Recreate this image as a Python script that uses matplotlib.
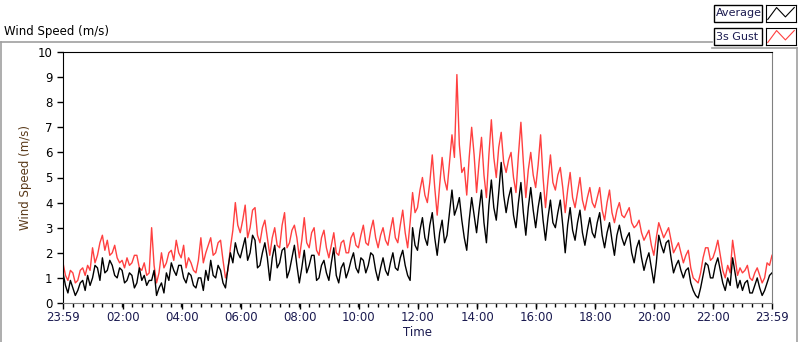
import numpy as np
import matplotlib
matplotlib.use("Agg")
from matplotlib import pyplot as plt
from matplotlib.patches import Rectangle
from matplotlib.lines import Line2D

# minutes since 23:59, sampled every 5 minutes (one row per hour)
minutes = np.arange(0, 1441, 5)

average = [1.2, 0.7, 0.4, 0.9, 0.6, 0.3, 0.5, 0.8, 0.9, 0.5, 1.1, 0.7,
           1.0, 1.5, 1.4, 0.9, 1.8, 1.2, 1.3, 1.7, 1.5, 1.1, 1.0, 1.4,
           1.3, 0.8, 0.9, 1.2, 1.1, 0.6, 0.8, 1.4, 0.9, 1.1, 0.7, 0.9,
           0.9, 1.3, 0.3, 0.6, 0.8, 0.4, 1.2, 0.9, 1.6, 1.3, 1.1, 1.5,
           1.5, 1.0, 0.8, 1.2, 1.1, 0.7, 0.6, 1.0, 1.0, 0.5, 1.3, 0.9,
           1.7, 1.1, 1.0, 1.5, 1.3, 0.8, 0.6, 1.4, 2.0, 1.6, 2.4, 2.0,
           1.8, 2.2, 2.6, 1.7, 2.0, 2.7, 2.5, 1.4, 1.5, 2.0, 2.4, 1.8,
           0.9, 1.8, 2.3, 1.4, 1.6, 2.1, 2.2, 1.0, 1.3, 1.8, 2.3, 1.5,
           0.8, 1.4, 2.1, 1.2, 1.5, 1.9, 1.9, 0.9, 1.0, 1.5, 1.7, 1.2,
           0.9, 1.6, 2.2, 1.1, 0.8, 1.4, 1.6, 1.0, 1.3, 1.7, 2.0, 1.4,
           1.2, 1.8, 1.7, 1.2, 1.5, 2.0, 1.9, 1.3, 0.9, 1.4, 1.8, 1.3,
           1.1, 1.6, 2.0, 1.4, 1.3, 1.8, 2.1, 1.5, 1.1, 0.9, 3.0, 2.3,
           2.1, 2.9, 3.4, 2.6, 2.3, 3.1, 3.6, 2.6, 1.9, 2.8, 3.3, 2.4,
           2.7, 3.6, 4.5, 3.5, 3.8, 4.2, 3.3, 2.6, 2.1, 3.3, 4.2, 3.5,
           2.8, 3.7, 4.5, 3.2, 2.4, 3.9, 4.9, 3.8, 3.3, 4.4, 5.6, 4.3,
           3.6, 4.2, 4.6, 3.5, 3.0, 4.0, 4.8, 3.6, 2.7, 3.8, 4.6, 3.7,
           3.0, 3.8, 4.4, 3.3, 2.5, 3.4, 4.1, 3.2, 3.0, 3.6, 4.1, 3.1,
           2.0, 3.1, 3.8, 2.9, 2.5, 3.2, 3.7, 2.8, 2.3, 2.9, 3.4, 2.8,
           2.6, 3.2, 3.6, 2.7, 2.2, 2.8, 3.2, 2.5, 1.9, 2.7, 3.1, 2.6,
           2.3, 2.6, 2.8, 2.0, 1.6, 2.2, 2.5, 1.8, 1.3, 1.7, 2.0, 1.4,
           0.8, 1.6, 2.7, 2.3, 2.0, 2.4, 2.5, 1.8, 1.2, 1.5, 1.7, 1.3,
           1.0, 1.3, 1.4, 0.8, 0.5, 0.3, 0.2, 0.6, 1.1, 1.6, 1.5, 1.0,
           1.0, 1.5, 1.8, 1.3, 0.8, 0.5, 1.0, 0.7, 1.8, 1.2, 0.6, 0.9,
           0.5, 0.8, 0.9, 0.4, 0.4, 0.7, 1.0, 0.6, 0.3, 0.5, 0.8, 1.1,
           1.2]

gust = [1.6, 1.1, 0.9, 1.3, 1.2, 0.8, 0.9, 1.3, 1.4, 1.1, 1.5, 1.3,
        2.2, 1.6, 1.9, 2.4, 2.7, 2.1, 2.5, 1.9, 2.0, 2.3, 1.8, 1.6,
        1.7, 1.4, 1.8, 1.5, 1.6, 1.9, 1.9, 1.4, 1.3, 1.6, 1.1, 1.2,
        3.0, 1.5, 0.8, 1.2, 2.0, 1.4, 1.6, 2.0, 2.1, 1.7, 2.5, 2.0,
        1.8, 2.3, 1.4, 1.8, 1.6, 1.3, 1.2, 1.7, 2.6, 1.6, 2.0, 2.3,
        2.6, 1.9, 2.0, 2.4, 2.5, 1.7, 1.0, 1.3, 2.2, 2.9, 4.0, 3.1,
        2.8, 3.3, 3.9, 2.6, 3.0, 3.7, 3.8, 2.7, 2.4, 3.0, 3.3, 2.6,
        1.9, 2.6, 3.0, 2.3, 2.2, 3.1, 3.6, 2.2, 2.4, 2.9, 3.1, 2.6,
        1.8, 2.5, 3.4, 2.4, 2.2, 2.8, 3.0, 2.1, 1.9, 2.6, 2.9, 2.2,
        1.8, 2.3, 2.8, 2.0, 1.9, 2.4, 2.5, 2.0, 2.0, 2.6, 2.8, 2.3,
        2.2, 2.7, 3.1, 2.4, 2.3, 2.9, 3.3, 2.6, 2.2, 2.7, 3.0, 2.5,
        2.3, 2.9, 3.4, 2.6, 2.4, 3.1, 3.7, 2.8, 2.2, 3.2, 4.4, 3.6,
        3.8, 4.5, 5.0, 4.3, 4.0, 4.8, 5.9, 4.6, 3.5, 4.7, 5.8, 4.9,
        4.5, 5.6, 6.7, 5.8, 9.1, 6.3, 5.2, 5.4, 4.3, 5.8, 7.0, 5.9,
        4.4, 5.6, 6.6, 5.1, 4.2, 5.9, 7.3, 5.8, 5.0, 6.2, 6.8, 5.6,
        5.2, 5.7, 6.0, 5.0, 4.4, 5.9, 7.2, 5.6, 4.2, 5.3, 6.0, 5.1,
        4.6, 5.5, 6.7, 5.0, 3.8, 4.9, 5.9, 4.8, 4.5, 5.1, 5.4, 4.6,
        3.6, 4.5, 5.2, 4.2, 3.8, 4.4, 5.0, 4.1, 3.7, 4.2, 4.6, 4.0,
        3.8, 4.2, 4.6, 3.7, 3.3, 4.0, 4.5, 3.6, 3.2, 3.7, 4.0, 3.5,
        3.4, 3.6, 3.8, 3.2, 3.0, 3.1, 3.3, 2.8, 2.5, 2.7, 2.9, 2.3,
        1.9, 2.6, 3.2, 2.9, 2.6, 2.8, 3.0, 2.5, 2.0, 2.2, 2.4, 2.0,
        1.6, 1.9, 2.1, 1.4, 1.0, 0.9, 0.8, 1.2, 1.8, 2.2, 2.2, 1.7,
        1.8, 2.1, 2.5, 1.9, 1.3, 1.0, 1.5, 1.2, 2.5, 1.8, 1.1, 1.4,
        1.2, 1.3, 1.5, 1.0, 0.9, 1.2, 1.4, 1.1, 0.8, 1.0, 1.6, 1.5,
        1.9]

xtick_pos = [0, 121, 241, 361, 481, 601, 721, 841, 961, 1081, 1201, 1321, 1440]
xtick_labels = ['23:59', '02:00', '04:00', '06:00', '08:00', '10:00', '12:00',
                '14:00', '16:00', '18:00', '20:00', '22:00', '23:59']

W, H = 800, 342
fig = plt.figure(figsize=(W / 100, H / 100), dpi=100)

ax = fig.add_axes([63 / W, 1 - 303 / H, (772 - 63) / W, (303 - 52) / H])
ax.plot(minutes, gust, color='#ff4040', lw=1, zorder=2)
ax.plot(minutes, average, color='black', lw=1, zorder=3)

ax.set_xlim(0, 1440)
ax.set_ylim(0, 10)
ax.set_yticks(range(0, 11))
ax.set_xticks(xtick_pos)
ax.set_xticklabels(xtick_labels, color='#1a1a50')
ax.set_xticks(np.arange(0, 1441, 20), minor=True)
ax.tick_params(axis='both', which='major', direction='out', labelsize=8.5, length=4, width=1)
ax.tick_params(axis='x', which='minor', direction='out', length=3, width=1)
ax.tick_params(axis='x', pad=2)
ax.set_xlabel('Time', fontsize=8.5, color='#1a1a50', labelpad=1)
ax.set_ylabel('Wind Speed (m/s)', fontsize=8.5, color='#5a3a1a', labelpad=4)
for s in ['top', 'left']:
    ax.spines[s].set_color('black')
for s in ['right', 'bottom']:
    ax.spines[s].set_color('#808080')

# outer frame of the chart panel
def fig_line(x0, y0, x1, y1, color='#a0a0a0'):
    fig.add_artist(Line2D([x0 / W, x1 / W], [1 - y0 / H, 1 - y1 / H], color=color, lw=1.2))

fig_line(1, 42, 712, 42)
fig_line(1, 42, 1, 342)
fig_line(797, 48, 797, 342)
fig_line(712, 48, 797, 48)

fig.text(4 / W, 1 - 31 / H, 'Wind Speed (m/s)', fontsize=8.5, va='center', ha='left')

# legend boxes
names = ['Average', '3s Gust']
colors = ['black', '#ff4040']
for i, (name, c) in enumerate(zip(names, colors)):
    y0 = 5 + i * 23
    fig.add_artist(Rectangle((714 / W, 1 - (y0 + 17) / H), 48 / W, 17 / H,
                             fill=False, ec='black', lw=1))
    fig.text(716 / W, 1 - (y0 + 8.5) / H, name, fontsize=8, va='center', ha='left',
             color='#1a1a50')
    sax = fig.add_axes([766 / W, 1 - (y0 + 17) / H, 30 / W, 17 / H])
    sax.plot([0, 1, 2, 3], [0.15, 0.85, 0.3, 0.85], color=c, lw=0.8)
    sax.set_xlim(-0.2, 3.2)
    sax.set_ylim(0, 1)
    sax.set_xticks([])
    sax.set_yticks([])
    for s in sax.spines.values():
        s.set_color('black')

fig.savefig('out.png', dpi=100)
